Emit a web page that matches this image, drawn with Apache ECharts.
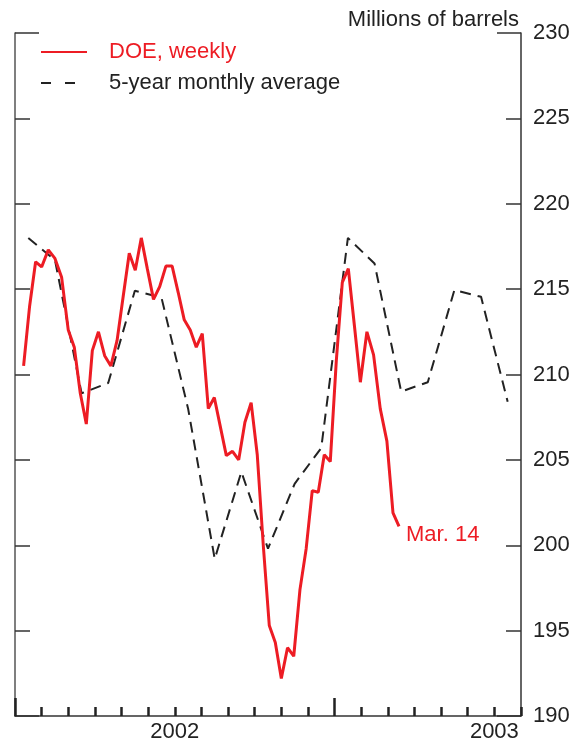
<!DOCTYPE html>
<html>
<head>
<meta charset="utf-8">
<script src="https://cdn.jsdelivr.net/npm/echarts@6/dist/echarts.min.js"></script>
<style>
html,body{margin:0;padding:0;background:#fff;}
#chart{width:584px;height:745px;}
</style>
</head>
<body>
<div id="chart"></div>
<script>
// ---- data ----
const doeFirstWeek = '2002-01-11';   // weekly (Fridays) through Mar. 14, 2003
const doeValues = [
  210.5, 214.0, 216.6, 216.3, 217.3, 216.8, 215.7, 212.6, 211.6, 208.9,
  207.1, 211.4, 212.5, 211.1, 210.5, 212.0, 214.6, 217.1, 216.1, 218.0,
  216.2, 214.4, 215.15, 216.35, 216.35, 214.8, 213.2, 212.6, 211.6, 212.4,
  208.0, 208.65, 206.95, 205.25, 205.5, 205.0, 207.2, 208.35, 205.3, 200.0,
  195.3, 194.3, 192.2, 194.0, 193.5, 197.4, 199.8, 203.2, 203.1, 205.3,
  204.9, 210.8, 215.4, 216.2, 212.9, 209.55, 212.5, 211.15, 208.0, 206.1,
  201.9, 201.1
];
const avgMonths = [
  '2002-01','2002-02','2002-03','2002-04','2002-05','2002-06','2002-07',
  '2002-08','2002-09','2002-10','2002-11','2002-12',
  '2003-01','2003-02','2003-03','2003-04','2003-05','2003-06','2003-07'
];
const avgValues = [
  218.0, 216.7, 208.9, 209.5, 214.9, 214.5, 208.0, 199.2, 204.3, 199.8, 203.6, 205.7,
  218.0, 216.5, 209.0, 209.55, 214.95, 214.55, 208.4
];
const yearLabels = { 6: '2002', 18: '2003' };
const yearStarts = [0, 12];
const lastLabel = 'Mar. 14';

// ---- helpers: convert dates to month units since Jan 2002 ----
function monthUnits(d) {
  const y = d.getUTCFullYear(), m = d.getUTCMonth(), day = d.getUTCDate();
  const dim = new Date(Date.UTC(y, m + 1, 0)).getUTCDate();
  return (y - 2002) * 12 + m + (day - 1) / dim;
}
const p = doeFirstWeek.split('-').map(Number);
const startMs = Date.UTC(p[0], p[1] - 1, p[2]);
const doeData = doeValues.map((v, i) => {
  const d = new Date(startMs + i * 7 * 86400000);
  return [monthUnits(d), v];
});
const avgData = avgMonths.map((s, i) => {
  const [y, m] = s.split('-').map(Number);
  return [(y - 2002) * 12 + (m - 1) + 0.5, avgValues[i]];
});

const FONT = 'Liberation Sans, Arial, sans-serif';
const RED = '#ed1c24';
const AX = '#333';

const chart = echarts.init(document.getElementById('chart'), null, { renderer: 'canvas' });
const yCommon = { type: 'value', min: 190, max: 230, splitLine: { show: false } };
chart.setOption({
  animation: false,
  title: {
    text: 'Millions of barrels', right: 65, top: 9, padding: 0,
    textStyle: { fontFamily: FONT, fontSize: 22, fontWeight: 'normal', color: '#222' }
  },
  legend: {
    orient: 'vertical', left: 40, top: 41, padding: 0,
    itemWidth: 46, itemHeight: 14, itemGap: 9,
    itemStyle: { opacity: 0 },
    textStyle: { fontFamily: FONT, fontSize: 22, lineHeight: 22, padding: [0, 0, 0, 17] },
    data: [
      { name: 'DOE, weekly', textStyle: { color: RED }, itemStyle: { opacity: 0 } },
      { name: '5-year monthly average', textStyle: { color: '#222' }, itemStyle: { opacity: 0 },
        lineStyle: { type: [10, 14] } }
    ]
  },
  grid: { left: 15, right: 63, top: 33, bottom: 29, containLabel: false },
  xAxis: [
    {
      type: 'value', min: 0, max: 19, interval: 1,
      axisLine: { show: true, onZero: false, lineStyle: { color: AX, width: 1.5 } },
      axisTick: { show: true, inside: true, length: 9, lineStyle: { color: '#222', width: 2.5 } },
      axisLabel: {
        show: true, margin: 5, color: '#222', fontFamily: FONT, fontSize: 22,
        showMinLabel: true, showMaxLabel: true, hideOverlap: false,
        formatter: v => yearLabels[Math.round(v)] || ''
      },
      splitLine: { show: false }
    },
    {
      type: 'value', min: 0, max: 19, interval: 12, position: 'bottom',
      axisLine: { show: false, onZero: false },
      axisTick: { show: true, inside: true, length: 18, customValues: yearStarts,
        lineStyle: { color: '#222', width: 2.5 } },
      axisLabel: { show: false }, splitLine: { show: false }
    }
  ],
  yAxis: [
    Object.assign({}, yCommon, {
      position: 'right', interval: 5,
      axisLine: { show: true, onZero: false, lineStyle: { color: AX, width: 1.5 } },
      axisTick: { show: true, inside: true, length: 15, lineStyle: { color: AX, width: 1.5 } },
      axisLabel: { show: true, margin: 12, color: '#222', fontFamily: FONT, fontSize: 22 }
    }),
    Object.assign({}, yCommon, {
      position: 'left', interval: 5,
      axisLine: { show: true, onZero: false, lineStyle: { color: '#555', width: 1.5 } },
      axisTick: { show: true, inside: true, length: 15, lineStyle: { color: AX, width: 1.5 } },
      axisLabel: { show: false }
    }),
    Object.assign({}, yCommon, {
      position: 'left', interval: 40,
      axisLine: { show: false, onZero: false },
      axisTick: { show: true, inside: true, length: 24, lineStyle: { color: AX, width: 1.5 } },
      axisLabel: { show: false }
    }),
    Object.assign({}, yCommon, {
      position: 'right', interval: 40,
      axisLine: { show: false, onZero: false },
      axisTick: { show: true, inside: true, length: 24, lineStyle: { color: AX, width: 1.5 } },
      axisLabel: { show: false }
    })
  ],
  series: [
    {
      name: 'DOE, weekly', type: 'line', xAxisIndex: 0, yAxisIndex: 0,
      data: doeData, symbol: 'none', showSymbol: false,
      lineStyle: { color: RED, width: 3 }, itemStyle: { color: RED },
      endLabel: {
        show: true, formatter: lastLabel, distance: 7, offset: [0, 8],
        color: RED, fontSize: 22, fontFamily: FONT
      },
      z: 3
    },
    {
      name: '5-year monthly average', type: 'line', xAxisIndex: 0, yAxisIndex: 0,
      data: avgData, symbol: 'none', showSymbol: false,
      lineStyle: { color: '#222', width: 2, type: [11, 7] }, itemStyle: { color: '#222' },
      z: 2
    }
  ]
});
</script>
</body>
</html>
